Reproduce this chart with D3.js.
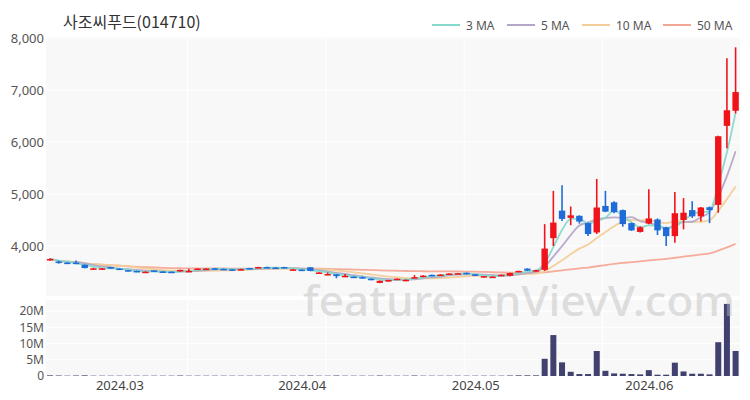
<!DOCTYPE html>
<html><head><meta charset="utf-8">
<script src="https://cdn.jsdelivr.net/npm/d3@7"></script>
<style>body{margin:0;background:#fff;}svg{display:block;}</style>
</head><body>
<svg id="chart" width="750" height="400"></svg>
<script>
const title = "사조씨푸드(014710)";
const dates = [
"2024-02-20","2024-02-21","2024-02-22","2024-02-23","2024-02-26","2024-02-27","2024-02-28","2024-02-29",
"2024-03-01","2024-03-04","2024-03-05","2024-03-06","2024-03-07","2024-03-08","2024-03-11","2024-03-12",
"2024-03-13","2024-03-14","2024-03-15","2024-03-18","2024-03-19","2024-03-20","2024-03-21","2024-03-22",
"2024-03-25","2024-03-26","2024-03-27","2024-03-28","2024-03-29",
"2024-04-01","2024-04-02","2024-04-03","2024-04-04","2024-04-05","2024-04-08","2024-04-09","2024-04-11",
"2024-04-12","2024-04-15","2024-04-16","2024-04-17","2024-04-18","2024-04-19","2024-04-22","2024-04-23",
"2024-04-24","2024-04-25","2024-04-26","2024-04-29",
"2024-05-02","2024-05-03","2024-05-07","2024-05-08","2024-05-09","2024-05-10","2024-05-13","2024-05-14",
"2024-05-16","2024-05-17","2024-05-20","2024-05-21","2024-05-22","2024-05-23","2024-05-24","2024-05-27",
"2024-05-28","2024-05-29","2024-05-30","2024-05-31",
"2024-06-03","2024-06-04","2024-06-05","2024-06-07","2024-06-10","2024-06-11","2024-06-12","2024-06-13",
"2024-06-14","2024-06-17","2024-06-18"];
const open = [3725,3700,3680,3680,3640,3555,3555,3595,3565,3535,3520,3495,3530,3510,3505,3510,3505,3550,3550,3570,
3560,3550,3540,3575,3580,3595,3585,3595,3535,3545,3590,3475,3445,3455,3410,3410,3400,3370,3290,3320,
3360,3325,3385,3405,3445,3435,3455,3465,3485,3455,3400,3390,3430,3425,3500,3565,3510,3540,4150,4680,
4540,4580,4440,4260,4770,4840,4690,4440,4270,4430,4510,4360,4190,4500,4690,4570,4745,4790,6310,6600];
const high = [3765,3720,3690,3720,3645,3580,3575,3600,3570,3540,3525,3510,3535,3515,3510,3545,3560,3570,3570,3575,
3565,3555,3560,3580,3600,3600,3595,3600,3555,3550,3595,3495,3490,3460,3460,3415,3415,3375,3335,3350,
3375,3355,3440,3435,3450,3455,3475,3480,3490,3460,3425,3415,3450,3485,3525,3570,3545,4420,5060,5170,
4760,4590,4450,5290,5060,4860,4700,4450,4380,5090,4530,4370,5040,4920,4860,4750,4760,6120,7610,7820];
const low = [3715,3660,3655,3650,3570,3550,3550,3560,3540,3510,3495,3490,3510,3495,3480,3505,3500,3545,3545,3550,
3545,3535,3535,3560,3575,3580,3570,3570,3530,3525,3515,3470,3440,3380,3405,3390,3375,3340,3285,3315,
3355,3320,3380,3400,3420,3430,3450,3460,3455,3420,3395,3385,3425,3420,3495,3520,3505,3520,4000,4480,
4400,4430,4190,4230,4650,4630,4370,4290,4260,4420,4210,4000,4060,4320,4540,4470,4440,4640,5880,6550];
const close = [3750,3680,3665,3665,3575,3570,3570,3565,3545,3515,3500,3505,3515,3500,3485,3540,3520,3565,3565,3555,
3550,3540,3555,3565,3595,3585,3575,3575,3550,3530,3520,3490,3460,3420,3425,3395,3385,3345,3330,3345,
3370,3350,3400,3430,3425,3450,3470,3475,3460,3425,3420,3410,3445,3480,3520,3525,3535,3950,4450,4520,
4590,4470,4230,4740,4660,4650,4420,4300,4360,4530,4300,4190,4630,4640,4570,4740,4690,6110,6610,6960];
const volumeM = [0.2,0.15,0.1,0.15,0.2,0.1,0.1,0.1,0.1,0.1,0.1,0.1,0.1,0.1,0.1,0.15,0.1,0.1,0.1,0.1,
0.1,0.1,0.1,0.1,0.1,0.1,0.1,0.1,0.1,0.1,0.15,0.1,0.1,0.15,0.1,0.1,0.1,0.1,0.15,0.1,
0.1,0.1,0.15,0.1,0.1,0.1,0.1,0.1,0.1,0.1,0.1,0.1,0.1,0.15,0.2,0.2,0.2,5.3,12.6,4.2,
1.3,0.6,0.6,7.7,1.6,0.8,0.7,0.6,0.5,1.8,0.4,0.4,4.1,1.4,0.7,0.7,0.5,10.4,22.2,7.7];
const maPeriods = [3, 5, 10, 50];
const maLabels = ["3 MA", "5 MA", "10 MA", "50 MA"];
const maColors = ["#86d9cc", "#b4a6c9", "#f3cd97", "#f5a796"];
const priceTicks = [4000, 5000, 6000, 7000, 8000];
const volTicks = [0, 5, 10, 15, 20];
const volTickLabels = ["0", "5M", "10M", "15M", "20M"];
const monthLabels = ["2024.03", "2024.04", "2024.05", "2024.06"];

const svg = d3.select("#chart");
const FONT = "'Noto Sans', 'Noto Sans CJK KR', sans-serif";
const bgL = 46, bgR = 740;
const mainTop = 37, mainBot = 296, volTop = 300, volBot = 376;

const x = d3.scalePoint().domain(dates).range([50, 735.6]);
const y = d3.scaleLinear().domain([3038, 8019]).range([mainBot, mainTop]);
const yv = d3.scaleLinear().domain([0, 23.4]).range([volBot, volTop]);

svg.append("rect").attr("width", 750).attr("height", 400).attr("fill", "#fff");
svg.append("rect").attr("x", bgL).attr("y", mainTop).attr("width", bgR - bgL).attr("height", mainBot - mainTop).attr("fill", "#f8f8f8");
svg.append("rect").attr("x", bgL).attr("y", volTop).attr("width", bgR - bgL).attr("height", volBot - volTop).attr("fill", "#f8f8f8");

// grid
const gridG = svg.append("g").attr("stroke", "#ffffff").attr("stroke-width", 1);
[1,2,3,4].forEach(k => {
  const gx = 49 + k * 692 / 5;
  gridG.append("line").attr("x1", gx).attr("x2", gx).attr("y1", mainTop).attr("y2", mainBot);
  gridG.append("line").attr("x1", gx).attr("x2", gx).attr("y1", volTop).attr("y2", volBot);
});
priceTicks.forEach(t => gridG.append("line").attr("x1", bgL).attr("x2", bgR).attr("y1", y(t)).attr("y2", y(t)));
volTicks.slice(1).forEach(t => gridG.append("line").attr("x1", bgL).attr("x2", bgR).attr("y1", yv(t)).attr("y2", yv(t)));

// y axes
const yAxis = d3.axisLeft(y).tickValues(priceTicks).tickFormat(d3.format(",")).tickSize(0).tickPadding(0);
const ya = svg.append("g").attr("transform", "translate(44,0)").call(yAxis);
ya.select(".domain").remove();
ya.selectAll("text").attr("font-family", FONT).attr("font-size", 13).attr("fill", "#555");

const vAxis = d3.axisLeft(yv).tickValues(volTicks).tickFormat((d, i) => volTickLabels[i]).tickSize(0).tickPadding(0);
const va = svg.append("g").attr("transform", "translate(44,0)").call(vAxis);
va.select(".domain").remove();
va.selectAll("text").attr("font-family", FONT).attr("font-size", 12).attr("fill", "#555");

// x axis: first trading date of each month
const monthFirst = [];
dates.forEach((d, i) => { const m = d.slice(0, 7); if (i === 0 || dates[i-1].slice(0, 7) !== m) monthFirst.push(d); });
const tickDates = monthFirst.filter(d => monthLabels.includes(d.slice(0, 7).replace("-", ".")));
const xAxis = d3.axisBottom(x).tickValues(tickDates).tickFormat(d => d.slice(0, 7).replace("-", ".")).tickSize(0).tickPadding(0);
const xa = svg.append("g").attr("transform", "translate(0,378)").call(xAxis);
xa.select(".domain").remove();
xa.selectAll("text").attr("font-family", FONT).attr("font-size", 13).attr("fill", "#444").attr("dy", "0.9em");

// volume bars
svg.append("g").selectAll("rect").data(volumeM).join("rect")
  .attr("x", (d, i) => x(dates[i]) - 3).attr("width", 6)
  .attr("y", d => yv(d)).attr("height", d => yv(0) - yv(d))
  .attr("fill", "#41416f");

// moving averages (partial window at start), drawn beneath candles
function ma(n) {
  return close.map((v, i) => { const s = close.slice(Math.max(0, i - n + 1), i + 1); return d3.mean(s); });
}
const line = d3.line().x((d, i) => x(dates[i])).y(d => y(d)).curve(d3.curveMonotoneX);
[3, 2, 1, 0].forEach(k => {
  svg.append("path").attr("d", line(ma(maPeriods[k]))).attr("fill", "none")
    .attr("stroke", maColors[k]).attr("stroke-width", 1.8).attr("opacity", 0.95);
});

// candles
const UP = "#f0141a", DOWN = "#1f6cd9";
const cg = svg.append("g");
dates.forEach((d, i) => {
  const c = close[i] >= open[i] ? UP : DOWN;
  const cx = x(d);
  cg.append("line").attr("x1", cx).attr("x2", cx).attr("y1", y(high[i])).attr("y2", y(low[i]))
    .attr("stroke", c).attr("stroke-width", 1.6);
  const top = y(Math.max(open[i], close[i])), bot = y(Math.min(open[i], close[i]));
  cg.append("rect").attr("x", cx - 3.2).attr("width", 6.4).attr("y", top).attr("height", Math.max(1.5, bot - top)).attr("fill", c);
});

// legend
const legX = [432, 507, 582, 663];
const lg = svg.append("g");
maLabels.forEach((l, i) => {
  lg.append("line").attr("x1", legX[i]).attr("x2", legX[i] + 28).attr("y1", 25).attr("y2", 25)
    .attr("stroke", maColors[i]).attr("stroke-width", 2);
  lg.append("text").attr("x", legX[i] + 34).attr("y", 29.5).text(l)
    .attr("font-family", FONT).attr("font-size", 12).attr("fill", "#555");
});

// title
svg.append("text").attr("x", 63).attr("y", 28).text(title)
  .attr("font-family", "'Noto Sans CJK KR', 'Noto Sans', sans-serif").attr("font-size", 16).attr("fill", "#333");

// watermark
svg.append("text").attr("x", 303).attr("y", 316).text("feature.enVievV.com")
  .attr("font-family", FONT).attr("font-size", 42).attr("font-weight", 500).attr("textLength", 432).attr("lengthAdjust", "spacingAndGlyphs")
  .attr("fill", "#bcbcbc").attr("opacity", 0.45);
</script>
</body></html>
